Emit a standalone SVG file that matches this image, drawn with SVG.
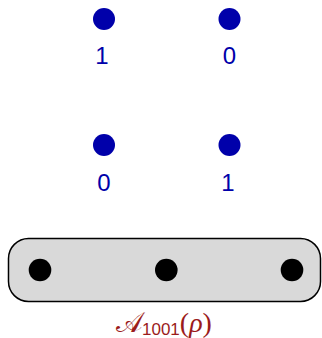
<svg xmlns="http://www.w3.org/2000/svg" width="322" height="338" viewBox="0 0 322 338">
<style>
.qb{fill:#0000AA}
.lb{fill:#0000AA;font-family:"Liberation Sans",Arial,sans-serif;font-size:24px;text-anchor:middle}
.bk{fill:#000}
.box{fill:#D9D9D9;stroke:#000;stroke-width:1.5}
.cap{fill:#9B1B1B;font-family:"Liberation Serif","DejaVu Serif",serif;font-size:28px}
</style>
<rect width="322" height="338" fill="#fff"/>
<g id="q1"><circle class="qb" cx="104" cy="19" r="11"/><text class="lb" x="102" y="64">1</text></g>
<g id="q2"><circle class="qb" cx="229.5" cy="19" r="11"/><text class="lb" x="229.5" y="64">0</text></g>
<g id="q3"><circle class="qb" cx="104" cy="145" r="11"/><text class="lb" x="104" y="191">0</text></g>
<g id="q4"><circle class="qb" cx="229.5" cy="145" r="11"/><text class="lb" x="228" y="191">1</text></g>
<g id="register">
<rect class="box" x="8.5" y="238.5" width="312" height="63" rx="20" ry="20"/>
<circle class="bk" cx="40" cy="270" r="11.3"/>
<circle class="bk" cx="166.3" cy="270" r="11.3"/>
<circle class="bk" cx="292" cy="270" r="11.3"/>
</g>
<g id="label">
<text class="cap" x="116" y="332">𝒜<tspan font-family="Liberation Sans,sans-serif" font-size="17" dy="3">1001</tspan><tspan dy="-3">(</tspan><tspan font-style="italic">ρ</tspan>)</text>
</g>
</svg>
